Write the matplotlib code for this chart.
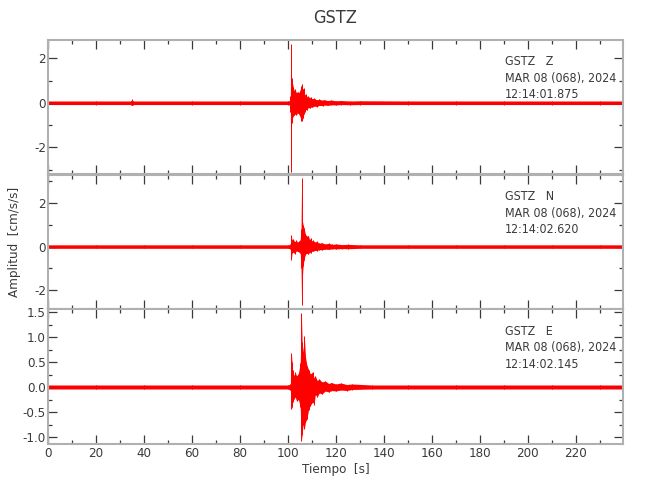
import matplotlib
matplotlib.use('Agg')
import matplotlib.pyplot as plt
from matplotlib.ticker import MultipleLocator, FormatStrFormatter

plt.rcParams['font.family'] = ['DejaVu Sans']
plt.rcParams['font.stretch'] = 'condensed'

# --- datos (envolvente superior / inferior) ---
station = 'GSTZ'
comps = ['Z', 'N', 'E']
fechas = ['MAR 08 (068), 2024'] * 3
horas = ['12:14:01.875', '12:14:02.620', '12:14:02.145']

# componente Z
t_z = [0, 20, 34.5, 35, 35.5, 60, 80, 100, 100.8, 101.0, 101.25, 101.5, 101.8, 102.2, 102.6,
       103.0, 103.5, 104.0, 104.5, 105.0, 105.5, 105.8, 106.2, 106.6, 107.0,
       107.5, 108.0, 108.5, 109.0, 109.5, 110.0, 111.0, 112.0, 113.0, 114.5, 115.0,
       116.5, 118.0, 120.0, 122.0, 126.0, 130.0,
       150, 170, 190, 210, 230, 239.6]
hi_z = [0.08, 0.08, 0.08, 0.15, 0.08, 0.08, 0.08, 0.08, 0.1, 0.3, 2.64, 1.1, 0.95, 0.7, 0.55,
        0.6, 0.45, 0.5, 0.45, 0.55, 0.75, 0.86, 0.6, 0.65, 0.35,
        0.4, 0.25, 0.3, 0.22, 0.26, 0.18, 0.2, 0.13, 0.16, 0.11, 0.14,
        0.1, 0.12, 0.09, 0.1, 0.08, 0.09,
        0.08, 0.08, 0.08, 0.08, 0.08, 0.08]
lo_z = [-0.08, -0.08, -0.08, -0.12, -0.08, -0.08, -0.08, -0.08, -0.1, -0.4, -3.12, -0.9, -0.7, -0.6, -0.55,
        -0.5, -0.55, -0.45, -0.5, -0.6, -0.8, -0.82, -0.7, -0.5, -0.4,
        -0.3, -0.32, -0.2, -0.25, -0.18, -0.2, -0.15, -0.17, -0.12, -0.13, -0.1,
        -0.12, -0.09, -0.1, -0.08, -0.09, -0.08,
        -0.08, -0.08, -0.08, -0.08, -0.08, -0.08]

# componente N
t_n = [0, 20, 40, 60, 80, 100, 101.0, 101.4, 101.7, 102.2, 102.8, 103.4, 104.0,
       104.6, 105.1, 105.45, 105.7, 105.95, 106.3, 106.7, 107.2, 107.8, 108.5,
       109.0, 109.5, 110.0, 110.5, 111.2, 112.0, 113.0, 114.0, 115.5, 117.0,
       118.5, 120.0, 122.5, 125.0, 130.0,
       150, 170, 190, 210, 230, 239.6]
hi_n = [0.08, 0.08, 0.08, 0.08, 0.08, 0.08, 0.1, 0.55, 0.3, 0.35, 0.22, 0.3, 0.2,
        0.25, 0.3, 0.8, 3.13, 1.24, 1.0, 0.86, 0.6, 0.47, 0.5,
        0.32, 0.4, 0.25, 0.3, 0.2, 0.24, 0.15, 0.18, 0.12, 0.15,
        0.1, 0.12, 0.09, 0.1, 0.08,
        0.08, 0.08, 0.08, 0.08, 0.08, 0.08]
lo_n = [-0.08, -0.08, -0.08, -0.08, -0.08, -0.08, -0.1, -0.6, -0.3, -0.25, -0.33, -0.2, -0.22,
        -0.25, -0.3, -1.0, -2.7, -1.5, -0.9, -0.6, -0.37, -0.3, -0.35,
        -0.25, -0.3, -0.2, -0.22, -0.17, -0.19, -0.14, -0.15, -0.12, -0.13,
        -0.1, -0.11, -0.09, -0.1, -0.08,
        -0.08, -0.08, -0.08, -0.08, -0.08, -0.08]

# componente E
t_e = [0, 20, 40, 60, 80, 100, 101.0, 101.4, 101.7, 101.9, 102.4, 103.0, 103.6,
       104.4, 105.1, 105.4, 105.6, 105.9, 106.3, 106.8, 107.3, 107.9, 108.6,
       109.3, 110.3, 110.9, 111.4, 112.2, 113.0, 114.2, 115.5, 117.0, 118.0,
       120.0, 122.0, 124.5, 126.7, 135.0,
       150, 170, 190, 210, 230, 239.6]
hi_e = [0.04, 0.04, 0.04, 0.04, 0.04, 0.04, 0.06, 0.69, 0.5, 0.35, 0.23, 0.3, 0.22,
        0.28, 0.49, 0.9, 1.49, 0.9, 0.7, 1.03, 0.6, 0.43, 0.35,
        0.26, 0.3, 0.18, 0.22, 0.13, 0.16, 0.1, 0.12, 0.07, 0.09,
        0.06, 0.08, 0.05, 0.06, 0.04,
        0.04, 0.04, 0.04, 0.04, 0.04, 0.04]
lo_e = [-0.04, -0.04, -0.04, -0.04, -0.04, -0.04, -0.06, -0.44, -0.4, -0.3, -0.24, -0.2, -0.28,
        -0.25, -0.4, -0.8, -1.07, -0.95, -0.75, -0.84, -0.7, -0.64, -0.45,
        -0.37, -0.3, -0.35, -0.15, -0.2, -0.12, -0.14, -0.08, -0.1, -0.07,
        -0.08, -0.06, -0.07, -0.05, -0.04,
        -0.04, -0.04, -0.04, -0.04, -0.04, -0.04]

trazas = [(t_z, hi_z, lo_z), (t_n, hi_n, lo_n), (t_e, hi_e, lo_e)]
ylims = [(-3.2, 2.82), (-2.87, 3.29), (-1.14, 1.56)]
ymajor = [2, 2, 0.5]
yminor = [1, 1, 0.25]
yfmt = ['%d', '%d', '%.1f']

gris = '#b0b0b0'
oscuro = '#3a3a3a'

fig = plt.figure(figsize=(6.5, 5), dpi=100)
posiciones = [[0.0738, 0.652, 0.8846, 0.268],
              [0.0738, 0.382, 0.8846, 0.268],
              [0.0738, 0.112, 0.8846, 0.270]]

for i in range(3):
    ax = fig.add_axes(posiciones[i])
    t, hi, lo = trazas[i]
    ax.fill_between(t, lo, hi, color='red', lw=0)
    ax.vlines(t, lo, hi, color='red', lw=0.7)
    ax.axhline(0, color='red', lw=0.8)

    ax.set_xlim(0, 239.6)
    ax.set_ylim(*ylims[i])
    ax.xaxis.set_major_locator(MultipleLocator(20))
    ax.xaxis.set_minor_locator(MultipleLocator(10))
    ax.yaxis.set_major_locator(MultipleLocator(ymajor[i]))
    ax.yaxis.set_minor_locator(MultipleLocator(yminor[i]))
    ax.yaxis.set_major_formatter(FormatStrFormatter(yfmt[i]))
    ax.tick_params(which='both', direction='in', top=True, right=True,
                   color=oscuro, labelcolor=oscuro, labelsize=9.5, width=0.9)
    ax.tick_params(which='major', length=6.5)
    ax.tick_params(which='minor', length=3.2)
    ax.tick_params(axis='y', pad=1.5)
    ax.tick_params(axis='x', pad=2)
    if i < 2:
        ax.tick_params(labelbottom=False)
    for s in ax.spines.values():
        s.set_color(gris)
        s.set_linewidth(1.5)

    texto = station + '   ' + comps[i] + '\n' + fechas[i] + '\n' + horas[i]
    ax.text(0.795, 0.885, texto, transform=ax.transAxes, va='top', ha='left',
            fontsize=8.9, color=oscuro, linespacing=1.35)

    if i == 0:
        ax.set_title(station, fontsize=13, color=oscuro, pad=12)
    if i == 1:
        ax.set_ylabel('Amplitud  [cm/s/s]', fontsize=9.5, color=oscuro, labelpad=9)
    if i == 2:
        ax.set_xlabel('Tiempo  [s]', fontsize=9.5, color=oscuro, labelpad=2)

fig.savefig('out.png', dpi=100)
